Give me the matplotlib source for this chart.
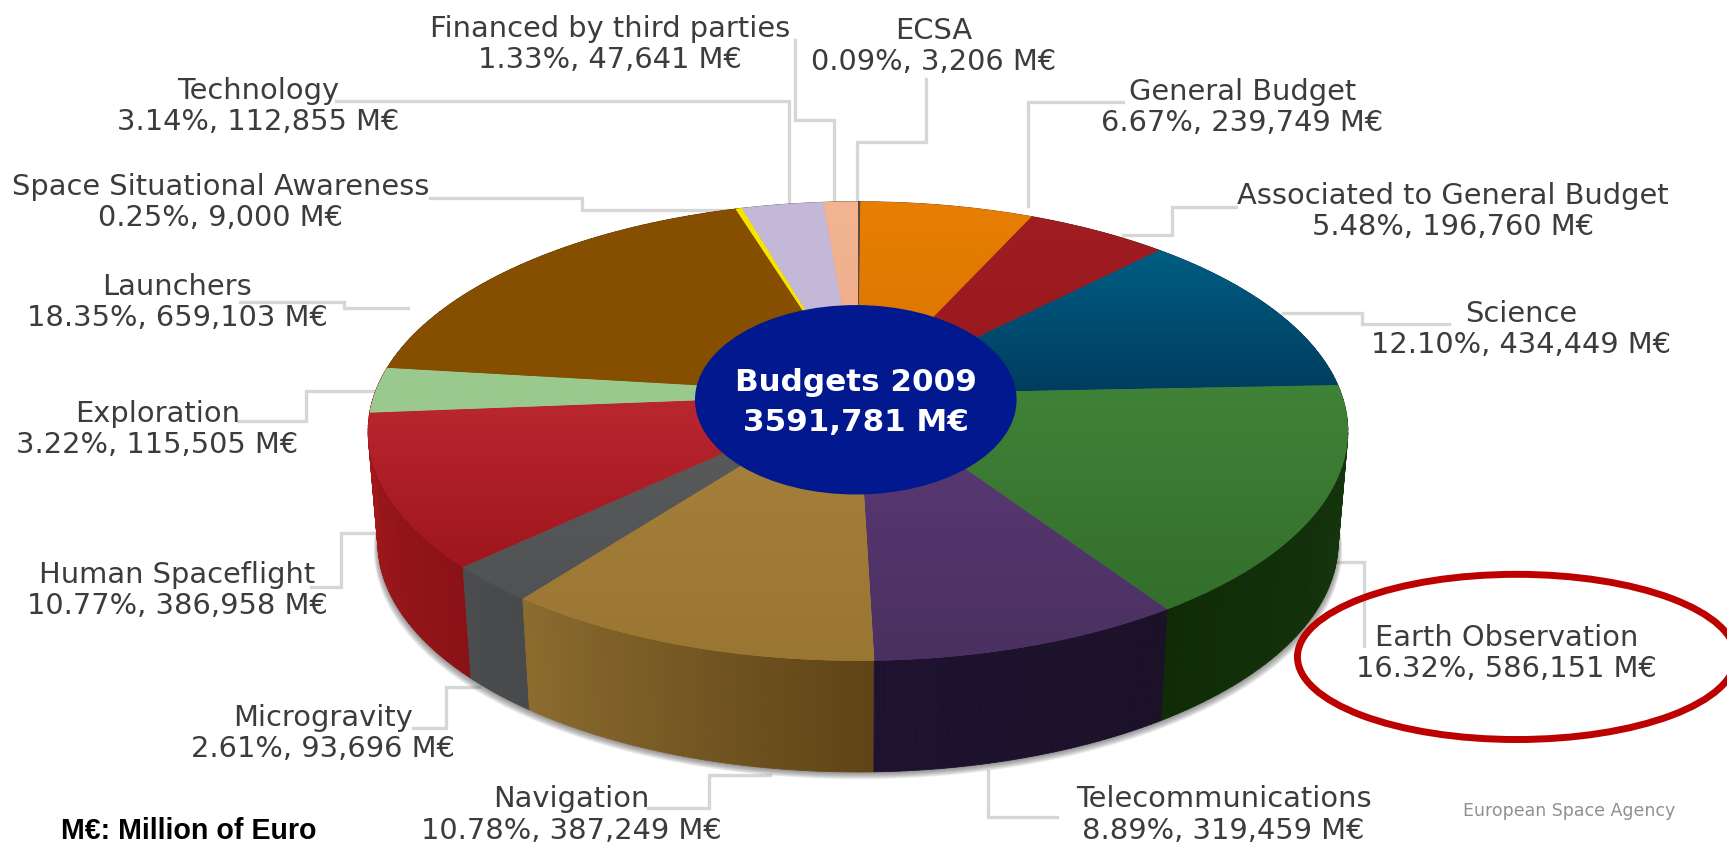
import numpy as np
import matplotlib
matplotlib.use("Agg")
import matplotlib.pyplot as plt
from matplotlib.patches import Ellipse, Polygon
from matplotlib.collections import PolyCollection
from matplotlib.transforms import Transform
from matplotlib.colors import to_rgb

# budget shares, clockwise from the top
names = ["ECSA", "General Budget", "Associated to General Budget", "Science",
         "Earth Observation", "Telecommunications", "Navigation", "Microgravity",
         "Human Spaceflight", "Exploration", "Launchers",
         "Space Situational Awareness", "Technology", "Financed by third parties"]
percent = [0.09, 6.67, 5.48, 12.10, 16.32, 8.89, 10.78, 2.61, 10.77, 3.22, 18.35, 0.25, 3.14, 1.33]
meuro = ["3,206", "239,749", "196,760", "434,449", "586,151", "319,459", "387,249", "93,696",
         "386,958", "115,505", "659,103", "9,000", "112,855", "47,641"]

top_colors = [("#5a4a40", "#5a4a40"), ("#e87e04", "#d87400"), ("#a01d22", "#96181f"),
              ("#005e84", "#013c5e"), ("#408238", "#336f2b"), ("#5c3a78", "#4a3060"),
              ("#a8823c", "#9a7633"), ("#5c5c5c", "#505254"), ("#bb2730", "#9f161d"),
              ("#9ac98e", "#9ac98e"), ("#864f00", "#864f00"), ("#f5e500", "#f5e500"),
              ("#c4b8d8", "#c4b8d8"), ("#f2b491", "#f0ad8a")]
side_colors = [("#3a3028", "#3a3028"), ("#80480a", "#80480a"), ("#5a1014", "#5a1014"),
               ("#002a40", "#002a40"), ("#17380f", "#0f2c07"), ("#1b1228", "#1e1230"),
               ("#5e4417", "#8c6b2e"), ("#48494b", "#4b4c4e"), ("#8a1216", "#a3181c"),
               ("#a3181c", "#a3181c"), ("#4a2c00", "#4a2c00"), ("#8a8000", "#8a8000"),
               ("#6e6778", "#6e6778"), ("#85634f", "#85634f")]

# layout, in the 1568x770 frame of the picture
W, H = 1568, 770
CX, CY = 779, 358
RX, RY, K = 439, 203, 0.161
DROP, SHRINK = 101, 0.98

label_pos = [(848, 42), (1128, 98), (1319, 192), (1381, 299), (1368, 593), (1111, 740),
             (519, 740), (293, 666), (161, 536), (143, 390), (161, 275), (200, 184),
             (234, 97), (554, 40)]
leaders = [[(841, 72), (841, 129), (778, 129), (778, 183)],
           [(1020, 93), (933, 93), (933, 187)],
           [(1122, 188), (1064, 188), (1064, 213), (1020, 213)],
           [(1316, 294), (1237, 294), (1237, 284), (1165, 284)],
           [(1238, 587), (1238, 510), (1215, 510)],
           [(960, 742), (897, 742), (897, 700)],
           [(588, 734), (644, 734), (644, 704), (699, 704)],
           [(375, 661), (405, 661), (405, 624), (435, 624)],
           [(282, 533), (310, 533), (310, 484), (342, 484)],
           [(216, 382), (278, 382), (278, 355), (340, 355)],
           [(218, 274), (312, 274), (312, 280), (370, 280)],
           [(390, 180), (528, 180), (528, 191), (660, 191)],
           [(305, 92), (716, 92), (716, 187)],
           [(722, 36), (722, 109), (757, 109), (757, 185)]]


def project(xy, drop=0.0, shrink=1.0):
    u, v = xy[:, 0], xy[:, 1]
    d = 1 + K * v
    return np.column_stack([CX + shrink * RX * u / d, CY - RY * v / d + drop])


class Tilt(Transform):
    input_dims = output_dims = 2

    def transform_non_affine(self, values):
        return project(np.asarray(values, dtype=float))


fig = plt.figure(figsize=(17.27, 8.48), dpi=100)
ax = fig.add_axes([0, 0, 1, 1])

# leader lines sit under the pie
for pts in leaders:
    xs, ys = zip(*pts)
    ax.plot(xs, ys, color="#d6d6d6", lw=2.4, zorder=1, solid_joinstyle="miter")

# soft shadow under the base
t = np.linspace(0, 2 * np.pi, 360)
circle = np.column_stack([np.sin(t), np.cos(t)])
for i in range(8):
    ax.add_patch(Polygon(project(circle, DROP + 1 + i * 0.8, SHRINK + 0.0012 * i), closed=True,
                         fc="#444444", ec="none", alpha=0.09, zorder=2))

wedges, _ = ax.pie(percent, startangle=90, counterclock=False, radius=1.0)

edges = np.cumsum([0] + percent) / sum(percent) * 2 * np.pi
order = np.argsort(-np.cos((edges[:-1] + edges[1:]) / 2))
for i in order:
    a = np.linspace(edges[i], edges[i + 1], 50)
    rim = np.column_stack([np.sin(a), np.cos(a)])
    upper = project(rim)
    lower = project(rim, DROP, SHRINK)
    quads = [[upper[j], upper[j + 1], lower[j + 1], lower[j]] for j in range(len(a) - 1)]
    ramp = np.linspace(to_rgb(side_colors[i][0]), to_rgb(side_colors[i][1]), len(quads))
    ax.add_collection(PolyCollection(quads, facecolors=ramp, edgecolors=ramp, linewidths=0.6, zorder=3))

for i, w in enumerate(wedges):
    w.set_transform(Tilt() + ax.transData)
    w.set_facecolor(top_colors[i][0])
    w.set_edgecolor("none")
    w.set_zorder(5)
    a = np.linspace(edges[i], edges[i + 1], 50)
    outline = project(np.column_stack([np.sin(a), np.cos(a)]))
    y0, y1 = min(outline[:, 1].min(), CY), max(outline[:, 1].max(), CY)
    ramp = np.linspace(to_rgb(top_colors[i][0]), to_rgb(top_colors[i][1]), 64)
    im = ax.imshow(ramp[:, None, :], extent=(CX - 460, CX + 460, y1 + 1, y0 - 1), aspect="auto",
                   interpolation="bilinear", origin="upper", zorder=5)
    im.set_clip_path(w)

ax.add_patch(Ellipse((777, 363), 292, 172, fc="#01188f", ec="none", zorder=7))
ax.text(777, 347, "Budgets 2009", color="white", fontsize=22.3, fontweight="bold",
        ha="center", va="center", zorder=8)
ax.text(777, 384, "3591,781 M€", color="white", fontsize=22.3, fontweight="bold",
        ha="center", va="center", zorder=8)

for name, pct, m, (x, y) in zip(names, percent, meuro, label_pos):
    ax.text(x, y, f"{name}\n{pct:.2f}%, {m} M€", color="#3c3c3c", fontsize=20.8,
            ha="center", va="center", linespacing=1.14, zorder=9)

ax.add_patch(Ellipse((1377, 596.5), 398, 150, fc="none", ec="#bd0000", lw=5, zorder=10))
ax.text(55, 755, "M€: Million of Euro", color="black", fontsize=20.6, fontweight="bold",
        family="Liberation Sans", ha="left", va="center", zorder=9)
ax.text(1425, 736, "European Space Agency", color="#909090", fontsize=12.5,
        ha="center", va="center", zorder=9)

ax.set_aspect("auto")
ax.set_xlim(0, W)
ax.set_ylim(H, 0)
ax.axis("off")
fig.savefig("out.png", dpi=100, facecolor="white")
